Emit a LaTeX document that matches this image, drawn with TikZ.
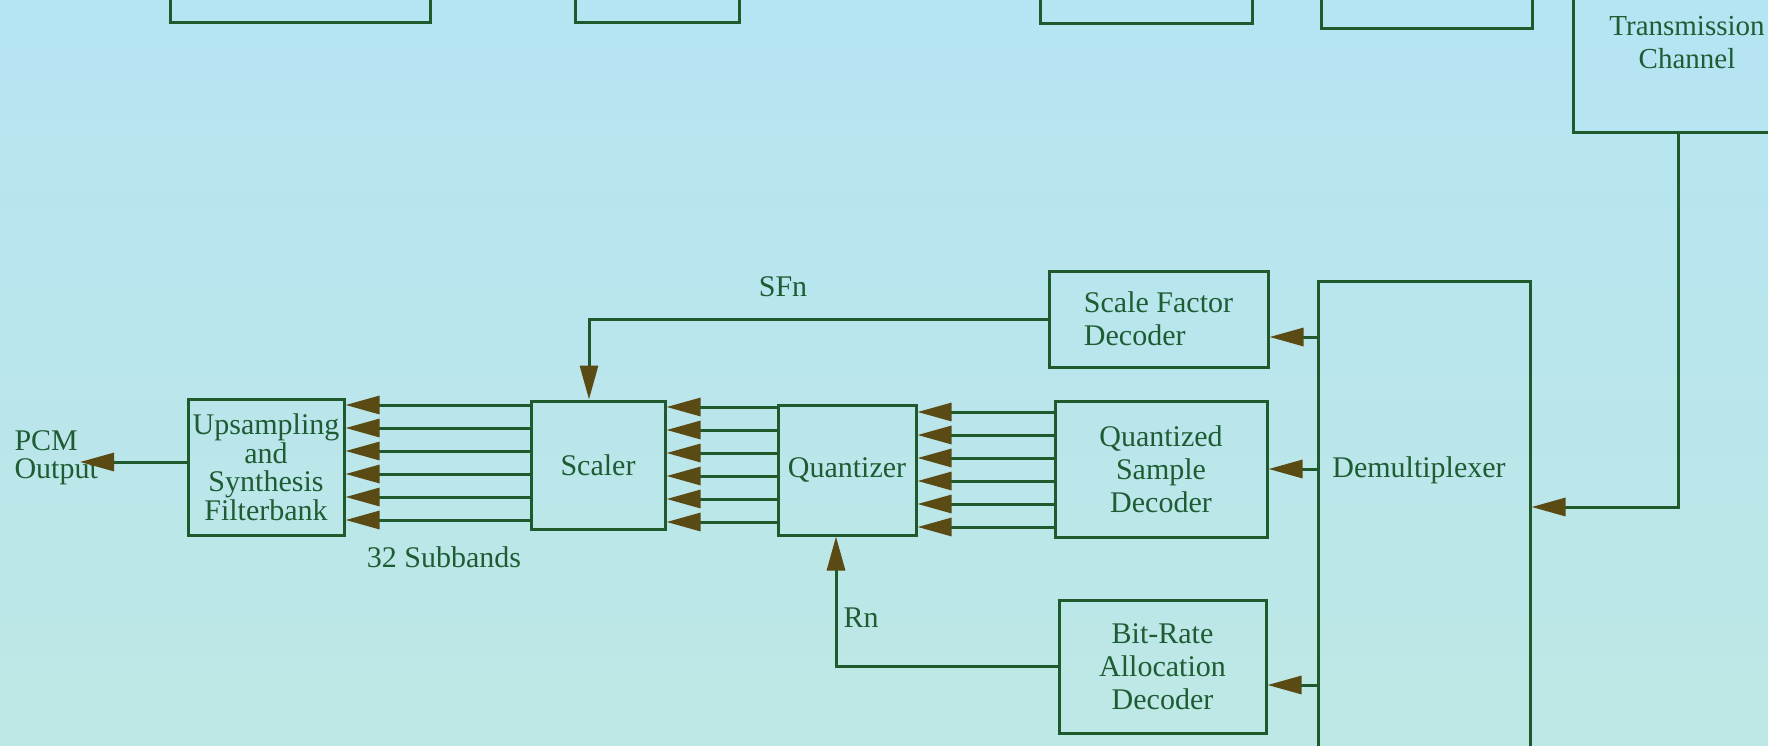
\documentclass[tikz,border=0pt]{standalone}
\usepackage{fontspec}
\setmainfont{Liberation Serif}
\usetikzlibrary{arrows.meta}
\definecolor{bgtop}{HTML}{B5E4F3}
\definecolor{bgbot}{HTML}{BEE8E5}
\definecolor{linec}{HTML}{1F5A2C}
\definecolor{textc}{HTML}{1E5C34}
\definecolor{tipc}{HTML}{5A4A14}
\begin{document}
\begin{tikzpicture}[x=1pt, y=-1pt, color=linec, line width=3pt,
    every node/.style={font=\fontsize{30}{33}\selectfont, text=textc},
    blk/.style={draw=linec, line width=3pt, inner sep=0pt, align=center},
    arr/.style={-{Triangle[length=34pt, width=18pt, color=tipc]}}]
    % background
    \useasboundingbox (0,0) rectangle (1768,746);
    \shade[top color=bgtop, bottom color=bgbot] (0,0) rectangle (1768,746);
    \clip (0,0) rectangle (1768,746);

    % boxes cut off at the top
    \node[blk, minimum width=260pt, minimum height=100pt] (top1) at (300,-27) {};
    \node[blk, minimum width=164pt, minimum height=100pt] (top2) at (657,-27) {};
    \node[blk, minimum width=212pt, minimum height=100pt] (top3) at (1146,-26) {};
    \node[blk, minimum width=211pt, minimum height=100pt] (top4) at (1426.5,-21) {};
    \node[blk, minimum width=228pt, minimum height=180pt, font=\fontsize{29}{33}\selectfont] (chan) at (1687,43) {Transmission\\Channel};

    % decoder blocks
    \node[blk, minimum width=156pt, minimum height=136pt, font=\fontsize{30}{28.5}\selectfont] (synth) at (266,467) {Upsampling\\and\\Synthesis\\Filterbank};
    \node[blk, minimum width=134pt, minimum height=128pt] (scaler) at (598,465) {Scaler};
    \node[blk, minimum width=138pt, minimum height=130pt] (quant) at (847,470) {Quantizer};
    \node[blk, minimum width=219pt, minimum height=96pt, align=left] (sfdec) at (1158.5,319) {Scale Factor\\Decoder};
    \node[blk, minimum width=212pt, minimum height=136pt] (qsdec) at (1161,469) {Quantized\\Sample\\Decoder};
    \node[blk, minimum width=207pt, minimum height=133pt] (brdec) at (1162.5,666.5) {Bit-Rate\\Allocation\\Decoder};
    \node[blk, minimum width=212pt, minimum height=520pt, label={[yshift=71pt, xshift=-5pt]center:Demultiplexer}] (demux) at (1424,541) {};

    % labels
    \node[anchor=west, align=left, inner sep=0pt, font=\fontsize{30}{28}\selectfont] (pcm) at (13,458) {PCM\\Output};
    \coordinate (pcmtip) at (80,462);
    \node (subbands) at (444,557) {32 Subbands};
    \node (sfn) at (783,287) {SFn};
    \node (rn) at (861,618) {Rn};

    % connectors
    \draw[arr] (synth.west |- 0,462) -- (pcmtip);
    \foreach \k in {0,...,5} {
        \draw[arr] (scaler.west |- 0,405+23*\k) -- (synth.east |- 0,405+23*\k);
        \draw[arr] (quant.west |- 0,407+23*\k) -- (scaler.east |- 0,407+23*\k);
        \draw[arr] (qsdec.west |- 0,412+23*\k) -- (quant.east |- 0,412+23*\k);
    }
    \draw[arr] (sfdec.west) -| ([xshift=-9pt]scaler.north);
    \draw[arr] (brdec.west) -| ([xshift=-11pt]quant.south);
    \draw[arr] (demux.west |- 0,337) -- (sfdec.east |- 0,337);
    \draw[arr] (demux.west |- qsdec.east) -- (qsdec.east);
    \draw[arr] (demux.west |- 0,685) -- (brdec.east |- 0,685);
    \draw[arr] ([xshift=-9pt]chan.south) |- (demux.east |- 0,507);
\end{tikzpicture}
\end{document}
